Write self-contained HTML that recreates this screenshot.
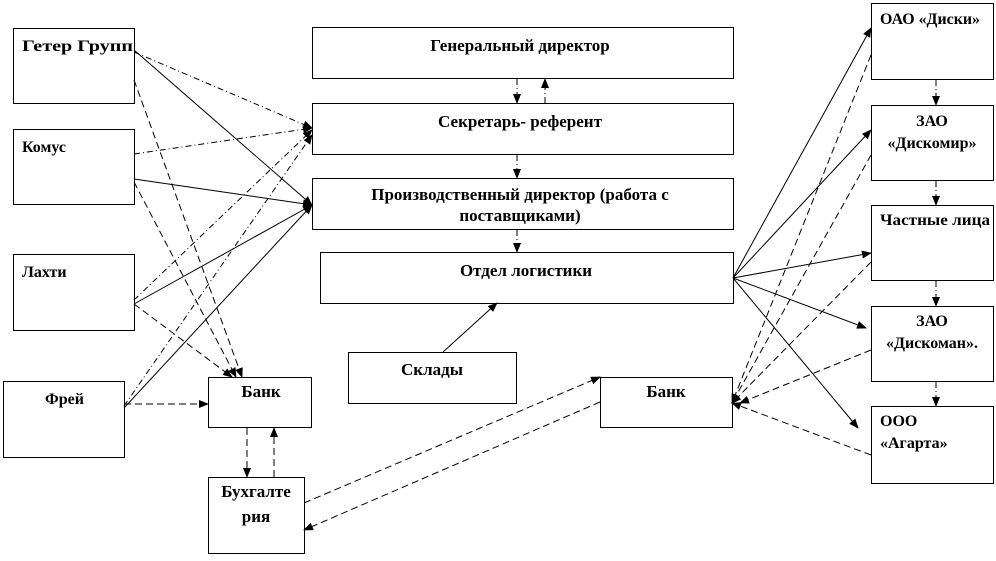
<!DOCTYPE html>
<html><head><meta charset="utf-8"><style>
body{margin:0;background:#fff}
svg text{font-family:"Liberation Serif","DejaVu Serif",serif;font-weight:bold;fill:#000}
</style></head><body>
<svg width="996" height="556" viewBox="0 0 996 556" xmlns="http://www.w3.org/2000/svg">
<defs>
<marker id="a" markerWidth="10" markerHeight="8" refX="9" refY="4" orient="auto" markerUnits="userSpaceOnUse"><path d="M0,0L10,4L0,8z" fill="#000"/></marker>
</defs>
<g fill="none" stroke="#000" stroke-width="1">
<rect x="13.5" y="28.5" width="121" height="75"/>
<rect x="13.5" y="129.5" width="121" height="75"/>
<rect x="13.5" y="254.5" width="121" height="76"/>
<rect x="3.5" y="381.5" width="121" height="76"/>
<rect x="208.5" y="377.5" width="103" height="50"/>
<rect x="208.5" y="477.5" width="96" height="76"/>
<rect x="312.5" y="27.5" width="421" height="51"/>
<rect x="312.5" y="103.5" width="421" height="51"/>
<rect x="312.5" y="178.5" width="421" height="51"/>
<rect x="320.5" y="252.5" width="413" height="51"/>
<rect x="348.5" y="352.5" width="168" height="51"/>
<rect x="600.5" y="377.5" width="132" height="50"/>
<rect x="871.5" y="3.5" width="122" height="76"/>
<rect x="871.5" y="105.5" width="122" height="75"/>
<rect x="871.5" y="205.5" width="122" height="75"/>
<rect x="871.5" y="306.5" width="122" height="75"/>
<rect x="871.5" y="406.5" width="122" height="77"/>
</g>
<g stroke="#000" stroke-width="1" fill="none" marker-end="url(#a)">
<line x1="134" y1="50" x2="312" y2="205"/>
<line x1="134" y1="179" x2="312" y2="205"/>
<line x1="134" y1="304" x2="312" y2="205"/>
<line x1="124" y1="408" x2="312" y2="205"/>
<line x1="443" y1="352" x2="497" y2="303"/>
<line x1="733" y1="278" x2="871" y2="28"/>
<line x1="733" y1="278" x2="871" y2="130"/>
<line x1="733" y1="278" x2="871" y2="253"/>
<line x1="733" y1="278" x2="866" y2="328"/>
<line x1="733" y1="278" x2="858" y2="428"/>
</g>
<g stroke="#000" stroke-width="1" fill="none" stroke-dasharray="6,3,1,3" marker-end="url(#a)">
<line x1="134" y1="52" x2="312" y2="128"/>
<line x1="134" y1="154" x2="312" y2="128"/>
<line x1="134" y1="300" x2="312" y2="130"/>
<line x1="124" y1="406" x2="312" y2="135"/>
<line x1="517" y1="79" x2="517" y2="103"/>
<line x1="545" y1="103" x2="545" y2="79"/>
<line x1="517" y1="155" x2="517" y2="178"/>
<line x1="517" y1="230" x2="517" y2="252"/>
<line x1="936" y1="80" x2="936" y2="105"/>
<line x1="936" y1="181" x2="936" y2="205"/>
<line x1="936" y1="281" x2="936" y2="306"/>
<line x1="936" y1="382" x2="936" y2="406"/>
</g>
<g stroke="#000" stroke-width="1" fill="none" stroke-dasharray="7,4" marker-end="url(#a)">
<line x1="134" y1="80" x2="242" y2="377"/>
<line x1="134" y1="182" x2="236" y2="377"/>
<line x1="134" y1="304" x2="232" y2="377"/>
<line x1="124" y1="404" x2="208" y2="404"/>
<line x1="247" y1="428" x2="247" y2="477"/>
<line x1="274" y1="477" x2="274" y2="428"/>
<line x1="304" y1="503" x2="600" y2="377"/>
<line x1="600" y1="402" x2="304" y2="530"/>
<line x1="871" y1="55" x2="732" y2="403"/>
<line x1="871" y1="155" x2="732" y2="403"/>
<line x1="871" y1="262" x2="732" y2="403"/>
<line x1="871" y1="350" x2="740" y2="403"/>
<line x1="871" y1="455" x2="732" y2="403"/>
</g>
<g font-size="16">
<text x="22" y="51" textLength="111" lengthAdjust="spacingAndGlyphs">Гетер Групп</text>
<text x="22" y="152">Комус</text>
<text x="22" y="277">Лахти</text>
<text x="45" y="404">Фрей</text>
<text x="880" y="24" textLength="100" lengthAdjust="spacingAndGlyphs">ОАО «Диски»</text>
<text x="932" y="126" text-anchor="middle">ЗАО</text>
<text x="932" y="148" text-anchor="middle">«Дискомир»</text>
<text x="880" y="225" textLength="110" lengthAdjust="spacingAndGlyphs">Частные лица</text>
<text x="932" y="326" text-anchor="middle">ЗАО</text>
<text x="932" y="348" text-anchor="middle">«Дискоман».</text>
<text x="880" y="426">ООО</text>
<text x="880" y="448">«Агарта»</text>
</g>
<g font-size="17">
<text x="261" y="397" text-anchor="middle">Банк</text>
<text x="666" y="397" text-anchor="middle">Банк</text>
<text x="256" y="497" text-anchor="middle">Бухгалте</text>
<text x="256" y="522" text-anchor="middle">рия</text>
<text x="520" y="51" text-anchor="middle">Генеральный директор</text>
<text x="520" y="127" text-anchor="middle">Секретарь- референт</text>
<text x="520" y="200" text-anchor="middle">Производственный  директор (работа с</text>
<text x="520" y="221" text-anchor="middle">поставщиками)</text>
<text x="526" y="276" text-anchor="middle">Отдел логистики</text>
<text x="432" y="375" text-anchor="middle">Склады</text>
</g>
</svg>
</body></html>
